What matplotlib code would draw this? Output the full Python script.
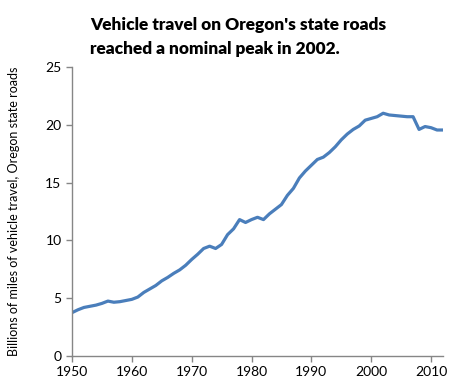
import numpy as np
import matplotlib
matplotlib.use('Agg')
import matplotlib.pyplot as plt

# Oregon state roads, vehicle miles travelled (billions)
years = list(range(1950, 2013))
vmt = [3.75, 4.0, 4.2, 4.3, 4.4, 4.55, 4.75, 4.65, 4.7, 4.8,
       4.9, 5.1, 5.5, 5.8, 6.1, 6.5, 6.8, 7.15, 7.45, 7.85,
       8.35, 8.8, 9.3, 9.5, 9.3, 9.65, 10.5, 11.0, 11.8, 11.55,
       11.8, 12.0, 11.8, 12.3, 12.7, 13.1, 13.9, 14.5, 15.4, 16.0,
       16.5, 17.0, 17.2, 17.6, 18.1, 18.7, 19.2, 19.6, 19.9, 20.4,
       20.55, 20.7, 21.0, 20.85, 20.8, 20.75, 20.7, 20.7, 19.6, 19.85,
       19.75, 19.55, 19.55]
xticks = [1950, 1960, 1970, 1980, 1990, 2000, 2010]
yticks = [0, 5, 10, 15, 20, 25]

plt.rcParams['font.family'] = ['Lato', 'DejaVu Sans']

fig = plt.figure(figsize=(4.6, 3.83), dpi=100)
ax = fig.add_axes([72/460, 1-356/383, (443-72)/460, (356-67)/383])

ax.plot(years, vmt, color='#4A7EBB', linewidth=2.3, solid_joinstyle='round')

ax.set_xlim(1950, 2012)
ax.set_ylim(0, 25)
ax.set_xticks(xticks)
ax.set_yticks(yticks)
for s in ['top', 'right']:
    ax.spines[s].set_visible(False)
for s in ['left', 'bottom']:
    ax.spines[s].set_color('#868686')
    ax.spines[s].set_linewidth(1)
ax.tick_params(colors='#868686', length=4, width=1, labelsize=10, labelcolor='black')

ax.set_ylabel('Billions of miles of vehicle travel, Oregon state roads', fontsize=9.0)
ax.yaxis.set_label_coords(-0.14, 0.5)

fig.text(90/460, 1-37/383, "Vehicle travel on Oregon's state roads\nreached a nominal peak in 2002.",
         fontsize=12.4, fontweight='heavy', va='center', ha='left', linespacing=1.55)

fig.savefig('out.png', dpi=100)
